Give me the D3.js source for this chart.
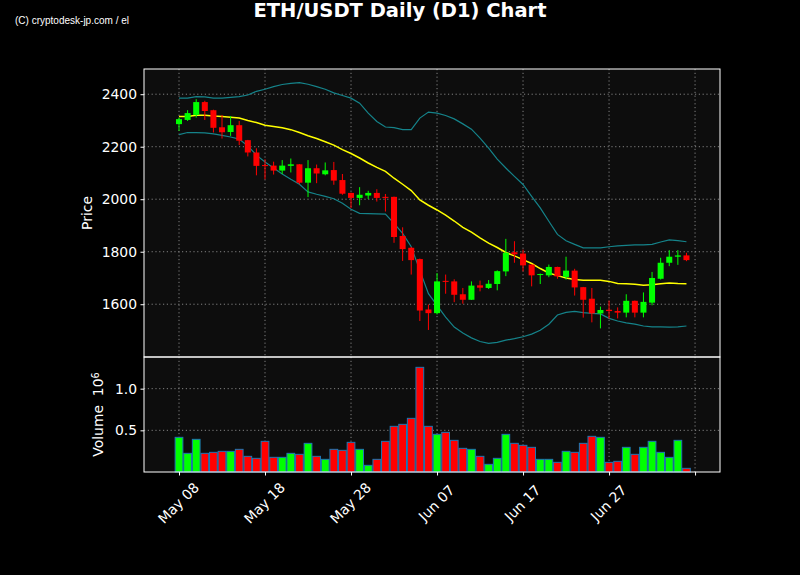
<!DOCTYPE html>
<html>
<head>
<meta charset="utf-8">
<script src="https://cdn.jsdelivr.net/npm/d3@7"></script>
<style>
  body { margin: 0; background: #000; }
  svg text { font-family: "DejaVu Sans", sans-serif; fill: #fff; }
</style>
</head>
<body>
<div id="chart-area"></div>
<script>
// ETH/USDT daily candles, May 08 - Jul 06
let dates = ["May 08","May 09","May 10","May 11","May 12","May 13","May 14","May 15","May 16","May 17",
  "May 18","May 19","May 20","May 21","May 22","May 23","May 24","May 25","May 26","May 27",
  "May 28","May 29","May 30","May 31","Jun 01","Jun 02","Jun 03","Jun 04","Jun 05","Jun 06",
  "Jun 07","Jun 08","Jun 09","Jun 10","Jun 11","Jun 12","Jun 13","Jun 14","Jun 15","Jun 16",
  "Jun 17","Jun 18","Jun 19","Jun 20","Jun 21","Jun 22","Jun 23","Jun 24","Jun 25","Jun 26",
  "Jun 27","Jun 28","Jun 29","Jun 30","Jul 01","Jul 02","Jul 03","Jul 04","Jul 05","Jul 06"];

let open = [2286,2302,2321,2370,2339,2274,2256,2282,2225,2178,
  2130,2128,2109,2127,2133,2063,2118,2095,2111,2073,
  2024,2005,2014,2024,2009,2009,1860,1815,1772,1580,
  1566,1689,1687,1638,1617,1672,1662,1677,1725,1798,
  1793,1751,1712,1710,1742,1704,1728,1665,1621,1565,
  1579,1574,1568,1613,1568,1606,1697,1758,1781,1786];
let high = [2311,2339,2381,2375,2341,2321,2317,2298,2226,2194,
  2152,2143,2149,2155,2134,2149,2132,2140,2142,2096,
  2025,2046,2032,2038,2020,2010,1893,1818,1774,1599,
  1719,1713,1695,1662,1687,1690,1692,1729,1849,1840,
  1808,1752,1717,1751,1743,1781,1735,1666,1662,1591,
  1614,1588,1638,1614,1645,1723,1777,1806,1806,1796];
let low = [2260,2298,2311,2302,2254,2231,2241,2206,2163,2091,
  2076,2094,2096,2102,2057,2008,2061,2091,2055,2017,
  1966,1977,2001,1991,1953,1834,1765,1713,1536,1502,
  1561,1640,1608,1602,1616,1649,1658,1653,1707,1758,
  1725,1668,1677,1703,1697,1694,1633,1549,1531,1508,
  1544,1546,1550,1550,1550,1596,1694,1745,1750,1764];
let close = [2305,2328,2370,2336,2272,2255,2282,2223,2178,2127,
  2127,2109,2128,2133,2063,2118,2098,2110,2071,2021,
  2005,2017,2024,2005,2005,1856,1810,1768,1576,1566,
  1687,1685,1636,1617,1671,1663,1678,1726,1796,1790,
  1748,1710,1715,1742,1706,1728,1664,1617,1565,1578,
  1574,1568,1613,1568,1609,1700,1758,1781,1786,1768];

// volume in millions
let volume = [0.416,0.224,0.392,0.224,0.236,0.248,0.248,0.272,0.188,0.164,
  0.368,0.176,0.176,0.224,0.212,0.344,0.188,0.152,0.272,0.260,
  0.356,0.272,0.080,0.152,0.368,0.548,0.572,0.644,1.256,0.548,
  0.452,0.476,0.380,0.284,0.272,0.188,0.092,0.164,0.452,0.344,
  0.320,0.296,0.152,0.152,0.116,0.248,0.236,0.344,0.428,0.416,
  0.116,0.128,0.296,0.212,0.296,0.368,0.236,0.176,0.380,0.044];

// Bollinger bands
let bbUpper = [2385,2385,2391,2390,2385,2385,2388,2391,2397,2411,
  2419,2429,2437,2441,2444,2438,2429,2419,2405,2395,
  2385,2366,2328,2296,2275,2273,2265,2265,2309,2332,
  2328,2319,2306,2287,2267,2233,2195,2153,2119,2087,
  2056,2011,1967,1916,1866,1842,1828,1815,1815,1815,
  1819,1822,1824,1826,1826,1828,1837,1845,1842,1838];
let bbMiddle = [2315,2315,2320,2320,2317,2315,2312,2309,2300,2292,
  2282,2277,2272,2265,2254,2242,2231,2219,2206,2189,
  2174,2157,2138,2121,2106,2080,2057,2033,1997,1977,
  1959,1939,1917,1893,1875,1853,1833,1816,1797,1784,
  1770,1755,1736,1719,1709,1700,1694,1691,1691,1691,
  1687,1679,1678,1676,1672,1674,1678,1681,1679,1678];
let bbLower = [2246,2254,2254,2253,2249,2243,2237,2229,2203,2168,
  2142,2119,2096,2076,2057,2028,2019,2011,2002,1985,
  1962,1946,1945,1944,1943,1908,1870,1819,1729,1640,
  1596,1551,1513,1490,1472,1458,1451,1455,1463,1469,
  1476,1486,1501,1524,1559,1569,1573,1568,1565,1563,
  1546,1536,1529,1524,1517,1514,1514,1513,1514,1517];

let priceTicks = [1600, 1800, 2000, 2200, 2400];
let volTicks = [0.5, 1.0];
let dayTicks = [0, 10, 20, 30, 40, 50, 60];

let data = dates.map((d, i) => ({
  i: i, date: d, open: open[i], high: high[i], low: low[i], close: close[i], vol: volume[i]
}));

// layout
let W = 800, H = 575;
let left = 144, right = 720;
let pTop = 69, pBot = 357, vTop = 357, vBot = 472;

let svg = d3.select("#chart-area").append("svg")
    .attr("width", W)
    .attr("height", H)
    .style("background", "#000");

// Scales
let x = d3.scaleLinear().domain([-4.07, 62.9]).range([left, right]);
let y = d3.scaleLinear().domain([1399, 2496]).range([pBot, pTop]);
let yv = d3.scaleLinear().domain([0, 1.38]).range([vBot, vTop]);
let dayW = x(1) - x(0);

let up = "#00ff00", down = "#ff0000";
let colorOf = d => d.close >= d.open ? up : down;

// panel backgrounds
svg.append("rect").attr("x", left).attr("y", pTop).attr("width", right - left).attr("height", pBot - pTop).attr("fill", "#0d0d0d");
svg.append("rect").attr("x", left).attr("y", vTop).attr("width", right - left).attr("height", vBot - vTop).attr("fill", "#0d0d0d");

// grid
let gridStyle = g => g.attr("stroke", "#a0a0a0").attr("stroke-width", 0.8).attr("stroke-dasharray", "1.2,2.6");
let grid = svg.append("g").call(gridStyle);
dayTicks.forEach(t => {
  grid.append("line").attr("x1", x(t)).attr("x2", x(t)).attr("y1", pTop).attr("y2", pBot);
  grid.append("line").attr("x1", x(t)).attr("x2", x(t)).attr("y1", vTop).attr("y2", vBot);
});
priceTicks.forEach(t => grid.append("line").attr("x1", left).attr("x2", right).attr("y1", y(t)).attr("y2", y(t)));
volTicks.forEach(t => grid.append("line").attr("x1", left).attr("x2", right).attr("y1", yv(t)).attr("y2", yv(t)));

// bands
let line = arr => d3.line().x((d, i) => x(i)).y(d => y(d))(arr);
svg.append("path").attr("d", line(bbUpper)).attr("fill", "none").attr("stroke", "#15838a").attr("stroke-width", 1.2);
svg.append("path").attr("d", line(bbLower)).attr("fill", "none").attr("stroke", "#15838a").attr("stroke-width", 1.2);
svg.append("path").attr("d", line(bbMiddle)).attr("fill", "none").attr("stroke", "#ffff00").attr("stroke-width", 1.5);

// candles
let candles = svg.append("g").selectAll("g").data(data).enter().append("g");
candles.append("line")
    .attr("x1", d => x(d.i)).attr("x2", d => x(d.i))
    .attr("y1", d => y(d.high)).attr("y2", d => y(d.low))
    .attr("stroke", colorOf).attr("stroke-width", 1);
candles.append("rect")
    .attr("x", d => x(d.i) - dayW * 0.35)
    .attr("width", dayW * 0.7)
    .attr("y", d => y(Math.max(d.open, d.close)))
    .attr("height", d => Math.max(1, Math.abs(y(d.open) - y(d.close))))
    .attr("fill", colorOf);

// volume bars
svg.append("g").selectAll("rect").data(data).enter().append("rect")
    .attr("x", d => x(d.i) - dayW * 0.45)
    .attr("width", dayW * 0.9)
    .attr("y", d => yv(d.vol))
    .attr("height", d => vBot - yv(d.vol))
    .attr("fill", colorOf)
    .attr("stroke", "#1f77b4")
    .attr("stroke-width", 1);

// axes
let styleAxis = g => {
  g.select(".domain").remove();
  g.selectAll(".tick line").attr("stroke", "#fff");
  g.selectAll(".tick text").attr("fill", "#fff").style("font-size", "13.9px");
};

svg.append("g")
    .attr("transform", `translate(${left},0)`)
    .call(d3.axisLeft(y).tickValues(priceTicks).tickSize(3.5).tickPadding(3.5).tickFormat(d3.format("d")))
    .call(styleAxis);

svg.append("g")
    .attr("transform", `translate(${left},0)`)
    .call(d3.axisLeft(yv).tickValues(volTicks).tickSize(3.5).tickPadding(3.5).tickFormat(d3.format(".1f")))
    .call(styleAxis);

let xAxisGroup = svg.append("g")
    .attr("transform", `translate(0,${vBot})`)
    .call(d3.axisBottom(x).tickValues(dayTicks).tickSize(3.5).tickFormat(t => dates[t] || ""))
    .call(styleAxis);
xAxisGroup.selectAll(".tick text")
    .attr("text-anchor", "middle")
    .attr("dy", null)
    .attr("y", null)
    .attr("dominant-baseline", "central")
    .attr("transform", "translate(-1,31) rotate(-45)");

// frames
[[pTop, pBot], [vTop, vBot]].forEach(p => {
  svg.append("rect").attr("x", left).attr("y", p[0]).attr("width", right - left).attr("height", p[1] - p[0])
    .attr("fill", "none").attr("stroke", "#fff").attr("stroke-width", 1);
});

// labels
svg.append("text")
    .attr("transform", `translate(92,${(pTop + pBot) / 2}) rotate(-90)`)
    .attr("text-anchor", "middle")
    .style("font-size", "13.9px")
    .text("Price");

let vLabel = svg.append("text")
    .attr("transform", `translate(103,${(vTop + vBot) / 2}) rotate(-90)`)
    .attr("text-anchor", "middle")
    .style("font-size", "13.9px")
    .style("white-space", "pre");
vLabel.append("tspan").text("Volume  10");
vLabel.append("tspan").attr("dy", "-0.45em").style("font-size", "9.7px").text("6");

svg.append("text")
    .attr("x", 400).attr("y", 17)
    .attr("text-anchor", "middle")
    .style("font-size", "19.5px")
    .style("font-weight", "bold")
    .text("ETH/USDT Daily (D1) Chart");

svg.append("text")
    .attr("x", 15).attr("y", 24)
    .style("font-family", "'Liberation Sans', Arial, sans-serif")
    .style("font-size", "10.5px")
    .attr("textLength", 114)
    .attr("lengthAdjust", "spacingAndGlyphs")
    .text("(C) cryptodesk-jp.com / el");
</script>
</body>
</html>
